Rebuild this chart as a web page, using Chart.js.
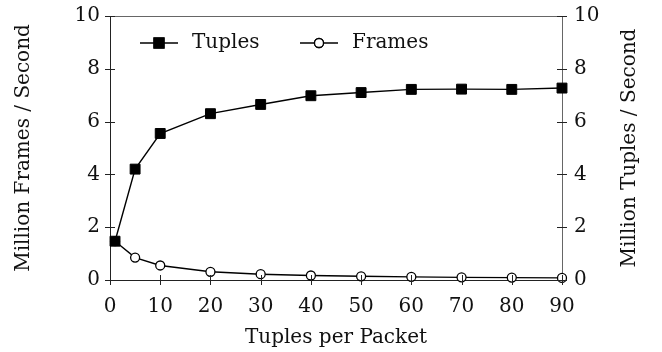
<!DOCTYPE html>
<html lang="en">
<head>
    <meta charset="UTF-8">
    <title>Tuples per Packet</title>
    <script src="https://cdn.jsdelivr.net/npm/chart.js@4.4.0/dist/chart.umd.min.js"></script>
    <style>
        html, body { margin: 0; padding: 0; background: #fff; }
        #wrap { width: 662px; height: 352px; }
    </style>
</head>
<body>
    <div id="wrap">
        <canvas id="chart" width="662" height="352"></canvas>
    </div>

<script>
    // data
    const packetSizes = [1, 5, 10, 20, 30, 40, 50, 60, 70, 80, 90];
    const tuplesRate = [1.47, 4.2, 5.55, 6.3, 6.65, 6.98, 7.1, 7.22, 7.23, 7.22, 7.27];
    const framesRate = [1.47, 0.85, 0.55, 0.31, 0.22, 0.17, 0.14, 0.12, 0.10, 0.09, 0.08];
    const xTickValues = [0, 10, 20, 30, 40, 50, 60, 70, 80, 90];
    const yTickValues = [0, 2, 4, 6, 8, 10];

    const FONT = 'DejaVu Serif';
    const font = { family: FONT, size: 20 };

    // ticks crossing the axis lines + the top frame line
    const tickMarks = {
        id: 'tickMarks',
        afterDraw(chart) {
            const { ctx, chartArea: a, scales } = chart;
            ctx.save();
            ctx.lineWidth = 1;
            ctx.strokeStyle = '#666';
            ctx.beginPath();
            ctx.moveTo(a.left, a.top + 0.5);
            ctx.lineTo(a.right, a.top + 0.5);
            ctx.stroke();

            ctx.strokeStyle = '#222';
            ctx.beginPath();
            scales.x.ticks.forEach(t => {
                const px = Math.round(scales.x.getPixelForValue(t.value)) + 0.5;
                ctx.moveTo(px, a.bottom - 5);
                ctx.lineTo(px, a.bottom + 5);
            });
            scales.y.ticks.forEach(t => {
                const py = Math.round(scales.y.getPixelForValue(t.value)) + 0.5;
                ctx.moveTo(a.left - 5, py);
                ctx.lineTo(a.left + 5, py);
            });
            scales.y1.ticks.forEach(t => {
                const py = Math.round(scales.y1.getPixelForValue(t.value)) + 0.5;
                ctx.moveTo(a.right - 5, py);
                ctx.lineTo(a.right + 5, py);
            });
            ctx.stroke();
            ctx.restore();
        }
    };

    // right axis title, read bottom to top like the left one
    const rightTitle = {
        id: 'rightTitle',
        afterDraw(chart) {
            const { ctx, chartArea: a } = chart;
            ctx.save();
            ctx.translate(630, (a.top + a.bottom) / 2);
            ctx.rotate(-Math.PI / 2);
            ctx.fillStyle = '#111';
            ctx.font = '20px "' + FONT + '"';
            ctx.textAlign = 'center';
            ctx.textBaseline = 'middle';
            ctx.fillText('Million Tuples / Second', 0, 0);
            ctx.restore();
        }
    };

    // legend inside the plot: line with marker, then label
    const innerLegend = {
        id: 'innerLegend',
        afterDraw(chart) {
            const ctx = chart.ctx;
            const y = 43;
            const items = [
                { x: 140, ds: chart.data.datasets[0] },
                { x: 300, ds: chart.data.datasets[1] }
            ];
            ctx.save();
            items.forEach(it => {
                ctx.strokeStyle = '#000';
                ctx.lineWidth = 1.4;
                ctx.beginPath();
                ctx.moveTo(it.x, y);
                ctx.lineTo(it.x + 38, y);
                ctx.stroke();
                Chart.helpers.drawPoint(ctx, {
                    pointStyle: it.ds.pointStyle,
                    radius: it.ds.pointRadius,
                    borderWidth: it.ds.borderWidth,
                    rotation: 0
                }, it.x + 19, y);
                ctx.fillStyle = it.ds.pointBackgroundColor;
                ctx.strokeStyle = '#000';
                ctx.lineWidth = 1.3;
                ctx.fill();
                ctx.stroke();
                ctx.fillStyle = '#111';
                ctx.font = '20px "' + FONT + '"';
                ctx.textAlign = 'left';
                ctx.textBaseline = 'middle';
                ctx.fillText(it.ds.label, it.x + 52, y);
            });
            ctx.restore();
        }
    };

    const noPad = s => { s.paddingTop = 0; s.paddingBottom = 0; s.paddingLeft = 0; s.paddingRight = 0; };

    window.onload = function () {
        const ctx = document.getElementById('chart').getContext('2d');
        new Chart(ctx, {
            type: 'line',
            data: {
                datasets: [{
                    label: 'Tuples',
                    data: packetSizes.map((x, i) => ({ x: x, y: tuplesRate[i] })),
                    yAxisID: 'y1',
                    borderColor: '#000',
                    borderWidth: 1.4,
                    pointStyle: 'rect',
                    pointRadius: 7,
                    pointBackgroundColor: '#000',
                    pointBorderColor: '#000',
                    pointBorderWidth: 1,
                    clip: false
                }, {
                    label: 'Frames',
                    data: packetSizes.map((x, i) => ({ x: x, y: framesRate[i] })),
                    yAxisID: 'y',
                    borderColor: '#000',
                    borderWidth: 1.4,
                    pointStyle: 'circle',
                    pointRadius: 4.5,
                    pointBackgroundColor: '#fff',
                    pointBorderColor: '#000',
                    pointBorderWidth: 1.3,
                    clip: false
                }]
            },
            options: {
                responsive: false,
                animation: false,
                layout: { padding: { top: 16, left: 0, right: 0, bottom: 0 } },
                plugins: {
                    legend: { display: false },
                    tooltip: { enabled: false }
                },
                scales: {
                    x: {
                        type: 'linear',
                        min: 0,
                        max: 90,
                        afterBuildTicks: s => { s.ticks = xTickValues.map(v => ({ value: v })); },
                        afterFit: s => { s.height = 72; noPad(s); },
                        grid: { display: false, drawTicks: false },
                        border: { display: true, color: '#222', width: 1 },
                        ticks: { font: font, color: '#111', padding: 15, maxRotation: 0 },
                        title: { display: true, text: 'Tuples per Packet', font: font, color: '#111', padding: 2 }
                    },
                    y: {
                        position: 'left',
                        min: 0,
                        max: 10,
                        afterBuildTicks: s => { s.ticks = yTickValues.map(v => ({ value: v })); },
                        afterFit: s => { s.width = 110; noPad(s); },
                        grid: { display: false, drawTicks: false },
                        border: { display: true, color: '#222', width: 1 },
                        ticks: { font: font, color: '#111', padding: 10 },
                        title: { display: true, text: 'Million Frames / Second', font: font, color: '#111', padding: 12 }
                    },
                    y1: {
                        position: 'right',
                        min: 0,
                        max: 10,
                        afterBuildTicks: s => { s.ticks = yTickValues.map(v => ({ value: v })); },
                        afterFit: s => { s.width = 100; noPad(s); },
                        grid: { display: false, drawTicks: false },
                        border: { display: true, color: '#666', width: 1 },
                        ticks: { font: font, color: '#111', padding: 12 }
                    }
                }
            },
            plugins: [tickMarks, rightTitle, innerLegend]
        });
    };
</script>
</body>
</html>
